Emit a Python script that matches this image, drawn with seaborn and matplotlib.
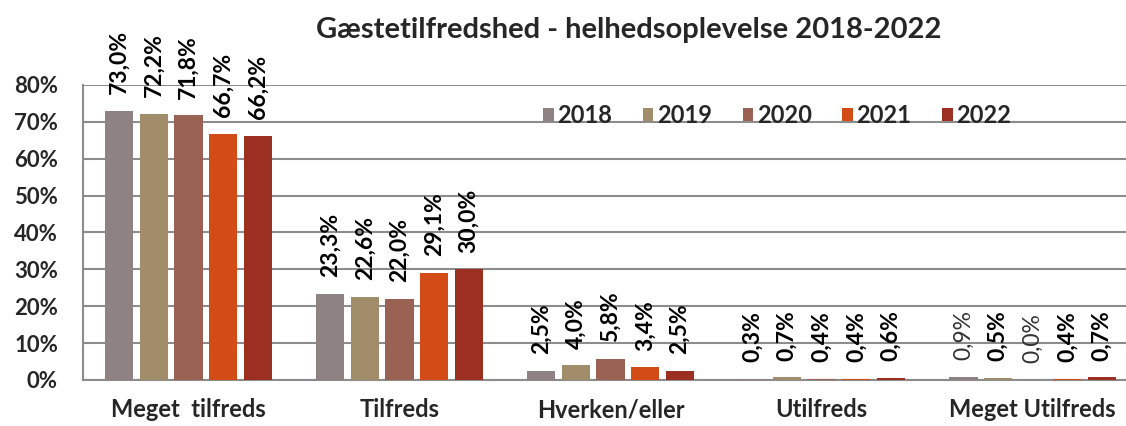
import seaborn as sns
import matplotlib.pyplot as plt
import pandas as pd
from matplotlib.ticker import PercentFormatter

# Data
categories = ['Meget  tilfreds', 'Tilfreds', 'Hverken/eller', 'Utilfreds', 'Meget Utilfreds']
years = ['2018', '2019', '2020', '2021', '2022']
values_2018 = [73.0, 23.3, 2.5, 0.3, 0.9]
values_2019 = [72.2, 22.6, 4.0, 0.7, 0.5]
values_2020 = [71.8, 22.0, 5.8, 0.4, 0.0]
values_2021 = [66.7, 29.1, 3.4, 0.4, 0.4]
values_2022 = [66.2, 30.0, 2.5, 0.6, 0.7]

series = [values_2018, values_2019, values_2020, values_2021, values_2022]
rows = []
for year, vals in zip(years, series):
    for cat, v in zip(categories, vals):
        rows.append({'Kategori': cat, 'År': year, 'Andel': v})
df = pd.DataFrame(rows)

colors = ['#8E8282', '#A28D6B', '#9A6252', '#D34B17', '#9B2F22']

sns.set_style("white")
plt.rcParams['font.family'] = ['Lato', 'DejaVu Sans']

fig = plt.figure(figsize=(11.26, 4.26), dpi=100)
ax = fig.add_axes([0.0737, 0.108, 0.937, 0.6925])

sns.barplot(data=df, x='Kategori', y='Andel', hue='År', order=categories,
            hue_order=years, palette=colors, width=0.82, gap=0.18,
            saturation=1, linewidth=0, ax=ax, zorder=3)

ax.set_ylim(0, 80)
ax.set_yticks(range(0, 81, 10))
ax.yaxis.set_major_formatter(PercentFormatter(100, decimals=0))
ax.grid(axis='y', color='#8C8C8C', linewidth=1.5, zorder=0)
ax.set_axisbelow(True)
for side in ['top', 'right']:
    ax.spines[side].set_visible(False)
for side in ['left', 'bottom']:
    ax.spines[side].set_color('#8C8C8C')
    ax.spines[side].set_linewidth(1.5)

ax.tick_params(axis='y', length=0, pad=18, labelsize=16)
ax.tick_params(axis='x', length=0, pad=13, labelsize=17)
for lbl in ax.get_xticklabels() + ax.get_yticklabels():
    lbl.set_fontweight('bold')
ax.set_xlabel('')
ax.set_ylabel('')

# Value labels (two labels in last group are not bold in the original)
light = {(4, 0), (4, 2)}
for yi, container in enumerate(ax.containers):
    for ci, bar in enumerate(container):
        h = bar.get_height()
        txt = f'{h:.1f}'.replace('.', ',') + '%'
        ax.annotate(txt, (bar.get_x() + bar.get_width() / 2, h),
                    xytext=(0, 12), textcoords='offset points',
                    rotation=90, ha='center', va='bottom', fontsize=16.5,
                    fontweight='normal' if (ci, yi) in light else 'bold',
                    color='#333333' if (ci, yi) in light else 'black',
                    annotation_clip=False)

leg = ax.legend(loc='center', bbox_to_anchor=(0.658, 0.898), ncol=5,
                frameon=False, prop={'weight': 'bold', 'size': 17},
                handlelength=0.45, handleheight=0.45, handletextpad=0.15,
                columnspacing=1.3, title=None)

fig.text(0.558, 0.93, 'Gæstetilfredshed - helhedsoplevelse 2018-2022',
         ha='center', va='center', fontsize=21, fontweight='bold')

fig.savefig('out.png', dpi=100)
